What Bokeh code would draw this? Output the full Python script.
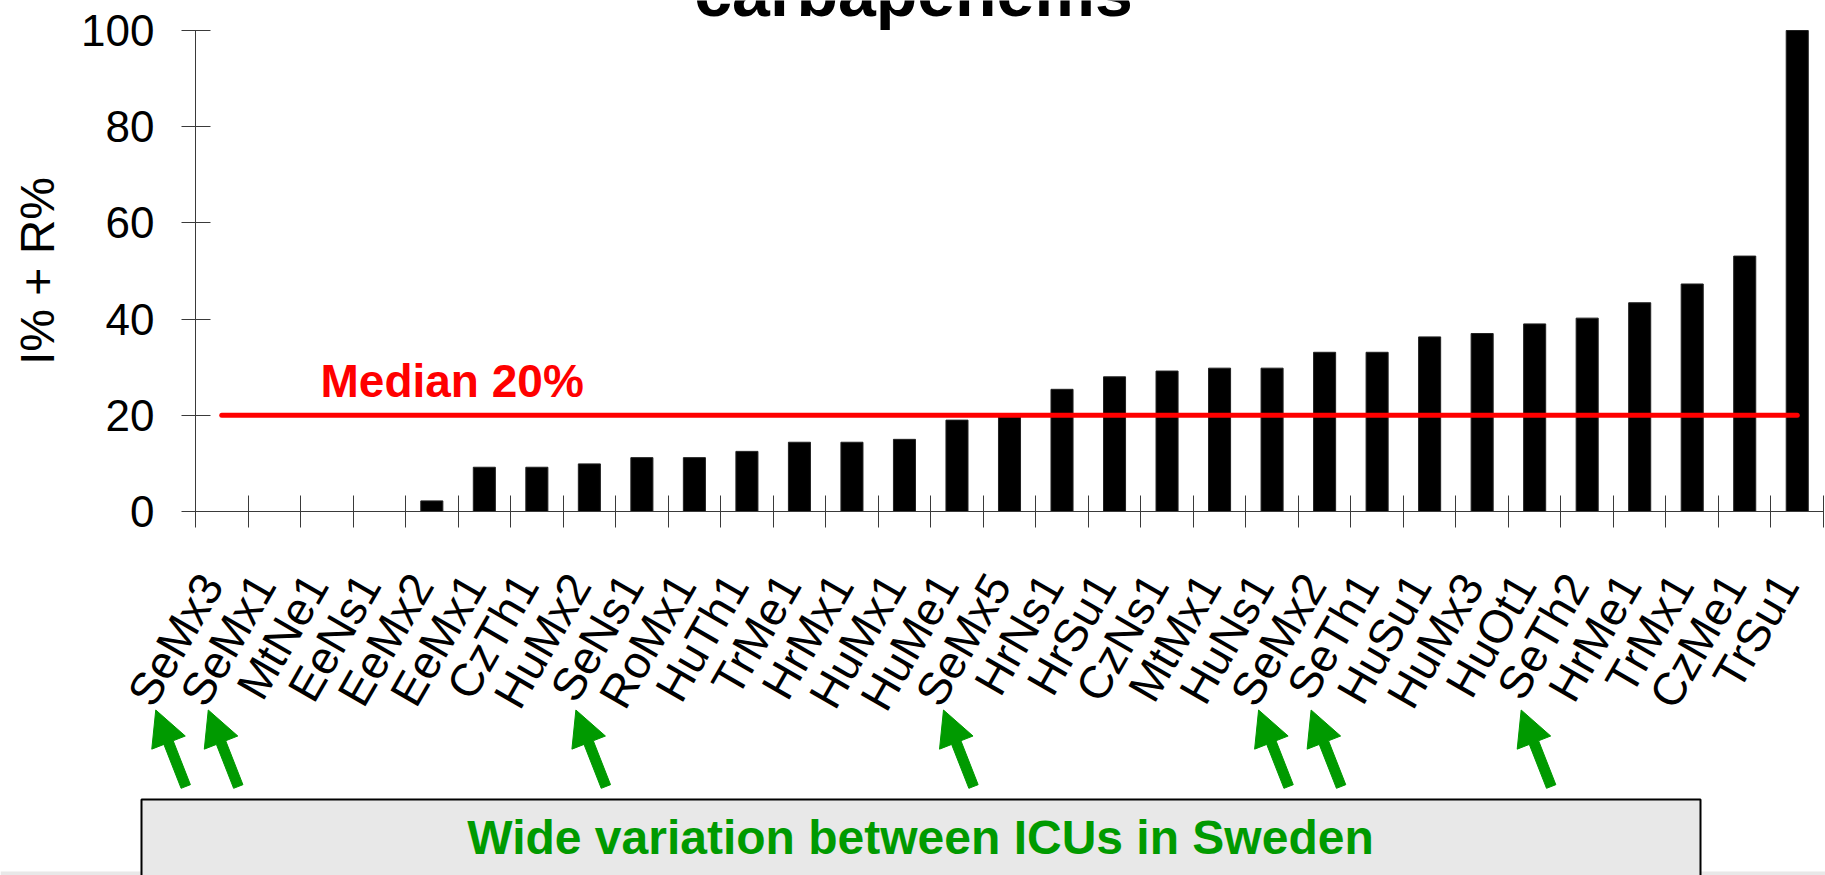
import math
from bokeh.plotting import figure
from bokeh.models import Range1d, FixedTicker, LinearAxis, Label
from bokeh.embed import file_html
from bokeh.resources import INLINE

# ---------------- data ----------------
categories = ["SeMx3", "SeMx1", "MtNe1", "EeNs1", "EeMx2", "EeMx1", "CzTh1", "HuMx2",
              "SeNs1", "RoMx1", "HuTh1", "TrMe1", "HrMx1", "HuMx1", "HuMe1", "SeMx5",
              "HrNs1", "HrSu1", "CzNs1", "MtMx1", "HuNs1", "SeMx2", "SeTh1", "HuSu1",
              "HuMx3", "HuOt1", "SeTh2", "HrMe1", "TrMx1", "CzMe1", "TrSu1"]
values = [0, 0, 0, 0, 2.2, 9.2, 9.2, 9.9,
          11.2, 11.2, 12.5, 14.4, 14.4, 15.0, 19.0, 20.0,
          25.4, 28.0, 29.2, 29.8, 29.8, 33.1, 33.1, 36.3,
          37.0, 39.0, 40.2, 43.4, 47.3, 53.1, 100.0]
y_ticks = [0, 20, 40, 60, 80, 100]
median_value = 20
title_text = "carbapenems"
y_label = "I% + R%"
median_label = "Median 20%"
note_text = "Wide variation between ICUs in Sweden"
highlight_prefix = "Se"

# ---------------- layout (canvas px) ----------------
W, H = 1825, 875
AX_L, AX_T, AX_B, AX_R = 195, 30, 511, 1823   # where the axes sit
n = len(categories)
XPX = (AX_R - AX_L) / n                 # px per category
YPX = (AX_B - AX_T) / 100.0             # px per percent

def dx(cx):   # canvas x px -> data x
    return 0.5 + (cx - AX_L) / XPX

def dy(cy):   # canvas y px -> data y
    return (AX_B - cy) / YPX

def label_y(baseline_px, font_px):      # compensate the renderer's baseline shift
    return dy(baseline_px - 0.37 * font_px)

FONT = "Liberation Sans"
AX = "#3a3a3a"
GREEN = "#009a00"

positions = list(range(1, n + 1))

# the frame fills the whole canvas; axes are pinned inside it
p = figure(width=W, height=H, x_range=Range1d(dx(0), dx(W)), y_range=Range1d(dy(H), dy(0)),
           output_backend="svg", toolbar_location=None,
           x_axis_type=None, y_axis_type=None, min_border=0)
p.outline_line_color = None
p.background_fill_color = "white"
p.border_fill_color = "white"

# y axis
yax = LinearAxis(ticker=FixedTicker(ticks=y_ticks), axis_label=y_label,
                 fixed_location=0.5, bounds=(0, 100))
yax.major_tick_in = 15
yax.major_tick_out = 14
yax.minor_tick_line_color = None
yax.major_label_standoff = 27
yax.major_label_text_font = FONT
yax.major_label_text_font_size = "44px"
yax.major_label_text_color = "black"
yax.axis_label_text_font = FONT
yax.axis_label_text_font_size = "48px"
yax.axis_label_text_font_style = "normal"
yax.axis_label_text_color = "black"
yax.axis_label_standoff = 14
yax.axis_line_color = AX
yax.major_tick_line_color = AX
p.add_layout(yax, "left")

# x axis: labels near category centres, tick marks at category boundaries
LABEL_SHIFT = -0.2
label_ticks = [round(pos + LABEL_SHIFT, 2) for pos in positions]
xax = LinearAxis(ticker=FixedTicker(ticks=label_ticks,
                                    minor_ticks=[i + 0.5 for i in range(n + 1)]),
                 fixed_location=0, bounds=(0.5, n + 0.5))
xax.major_label_overrides = {t: name for t, name in zip(label_ticks, categories)}
xax.major_tick_in = 0
xax.major_tick_out = 0
xax.minor_tick_in = 16
xax.minor_tick_out = 16
xax.minor_tick_line_color = AX
xax.axis_line_color = AX
xax.major_label_orientation = math.pi / 3
xax.major_label_standoff = 50
xax.major_label_text_font = FONT
xax.major_label_text_font_size = "46px"
xax.major_label_text_color = "black"
p.add_layout(xax, "below")

# bars
p.vbar(x=positions, top=values, width=0.42, fill_color="black", line_color="#222222",
       line_width=1)

# median line
p.line(x=[positions[0], positions[-1]], y=[median_value, median_value],
       line_color="red", line_width=5, line_cap="round")

p.add_layout(Label(x=dx(320), y=label_y(398, 46), text=median_label, text_align="left",
                   text_baseline="alphabetic", text_color="red", text_font=FONT,
                   text_font_size="46px", text_font_style="bold"))

# title (cut at the top as in the slide)
p.add_layout(Label(x=dx(913), y=label_y(17, 68), text=title_text, text_align="center",
                   text_baseline="alphabetic", text_color="black", text_font=FONT,
                   text_font_size="68px", text_font_style="bold"))

# arrows pointing at Swedish ICUs
TIP_OFF, TAIL_OFF = -66, -36       # px from category centre
TIP_Y, TAIL_Y = 709.5, 786
SHAFT_HW, HEAD_HW, HEAD_L = 5, 18, 35
sw = [pos for pos, name in zip(positions, categories) if name.startswith(highlight_prefix)]
arrow_xs, arrow_ys = [], []
for s in sw:
    cx = AX_L + (s - 0.5) * XPX
    tx, ty = cx + TIP_OFF, TIP_Y
    bx, by = cx + TAIL_OFF, TAIL_Y
    L = math.hypot(tx - bx, ty - by)
    ux, uy = (tx - bx) / L, (ty - by) / L
    vx, vy = -uy, ux
    nx, ny = tx - ux * HEAD_L, ty - uy * HEAD_L
    pts = [(bx + vx * SHAFT_HW, by + vy * SHAFT_HW),
           (nx + vx * SHAFT_HW, ny + vy * SHAFT_HW),
           (nx + vx * HEAD_HW, ny + vy * HEAD_HW),
           (tx, ty),
           (nx - vx * HEAD_HW, ny - vy * HEAD_HW),
           (nx - vx * SHAFT_HW, ny - vy * SHAFT_HW),
           (bx - vx * SHAFT_HW, by - vy * SHAFT_HW)]
    arrow_xs.append([dx(a) for a, b in pts])
    arrow_ys.append([dy(b) for a, b in pts])
p.patches(xs=arrow_xs, ys=arrow_ys, fill_color=GREEN, line_color=GREEN, line_width=1)

# thin grey strip at the very bottom of the slide
p.quad(left=[dx(0)], right=[dx(W)], top=[dy(871)], bottom=[dy(H + 10)],
       fill_color="#e8e8e8", line_color=None)

# note box
p.quad(left=[dx(141)], right=[dx(1700)], top=[dy(799)], bottom=[dy(H + 10)],
       fill_color="#e8e8e8", line_color="black", line_width=2)
p.add_layout(Label(x=dx(920), y=label_y(855, 48), text=note_text, text_align="center",
                   text_baseline="alphabetic", text_color=GREEN, text_font=FONT,
                   text_font_size="48px", text_font_style="bold"))

open("out.html", "w").write(file_html(p, INLINE))
